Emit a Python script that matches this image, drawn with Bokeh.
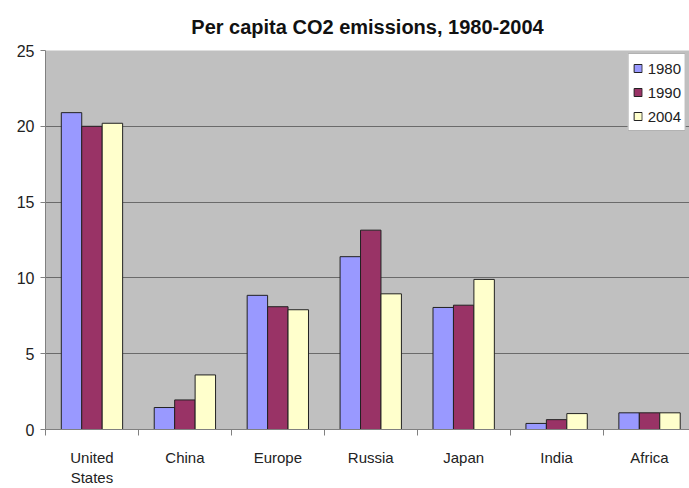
from bokeh.plotting import figure
from bokeh.models import FixedTicker, Legend, LegendItem, Range1d
from bokeh.embed import file_html
from bokeh.resources import INLINE

title_text = "Per capita CO2 emissions, 1980-2004"
regions = ["United\nStates", "China", "Europe", "Russia", "Japan", "India", "Africa"]
years = ["1980", "1990", "2004"]
co2_1980 = [20.9, 1.45, 8.85, 11.4, 8.05, 0.4, 1.1]
co2_1990 = [20.0, 1.95, 8.1, 13.15, 8.2, 0.65, 1.1]
co2_2004 = [20.2, 3.6, 7.9, 8.95, 9.9, 1.05, 1.1]
y_ticks = [0, 5, 10, 15, 20, 25]

colors = ["#9999FF", "#993366", "#FFFFCC"]
series = [co2_1980, co2_1990, co2_2004]

p = figure(width=689, height=488, output_backend="svg", toolbar_location=None,
           x_range=Range1d(0, 6.93), y_range=Range1d(0, 25),
           min_border_left=45, min_border_right=0, min_border_top=50,
           min_border_bottom=56)

p.title.text = title_text
p.title.align = "center"
p.title.text_font = "Liberation Sans"
p.title.text_font_size = "20px"
p.title.text_font_style = "bold"
p.title.text_color = "#111111"
p.title.offset = 10
p.title.standoff = 25

p.background_fill_color = "#C0C0C0"
p.border_fill_color = "white"
p.outline_line_color = None

centers = [i + 0.5 for i in range(len(regions))]
bar_w = 0.22
renderers = []
for k, (vals, col) in enumerate(zip(series, colors)):
    xs = [c + (k - 1) * bar_w for c in centers]
    r = p.vbar(x=xs, top=vals, width=bar_w, bottom=0, fill_color=col,
               line_color="#222222", line_width=1)
    renderers.append(r)

# y axis
p.yaxis.ticker = FixedTicker(ticks=y_ticks)
p.yaxis.major_label_text_font = "Liberation Sans"
p.yaxis.major_label_text_font_size = "16px"
p.yaxis.major_label_text_color = "#222222"
p.yaxis.axis_line_color = "#808080"
p.yaxis.major_tick_line_color = "#808080"
p.yaxis.major_tick_out = 5
p.yaxis.major_tick_in = 0
p.yaxis.minor_tick_line_color = None
p.yaxis.major_label_standoff = 6

# x axis: labels at category centres, tick marks between categories
p.xaxis.ticker = FixedTicker(ticks=centers, minor_ticks=list(range(len(regions) + 1)))
p.xaxis.major_label_overrides = {c: name for c, name in zip(centers, regions)}
p.xaxis.major_label_text_font = "Liberation Sans"
p.xaxis.major_label_text_font_size = "15px"
p.xaxis.major_label_text_color = "#222222"
p.xaxis.major_tick_line_color = None
p.xaxis.minor_tick_line_color = "#808080"
p.xaxis.minor_tick_out = 6
p.xaxis.minor_tick_in = 0
p.xaxis.axis_line_color = "#808080"
p.xaxis.major_label_standoff = 13

p.xgrid.grid_line_color = None
p.ygrid.grid_line_color = "#6a6a6a"
p.ygrid.grid_line_width = 1

legend = Legend(items=[LegendItem(label=y, renderers=[r]) for y, r in zip(years, renderers)],
                location="top_right")
legend.label_text_font = "Liberation Sans"
legend.label_text_font_size = "15px"
legend.label_text_color = "#222222"
legend.glyph_width = 10
legend.glyph_height = 10
legend.label_height = 20
legend.label_standoff = 5
legend.spacing = 4
legend.padding = 4
legend.margin = 3
legend.border_line_color = "#666666"
legend.background_fill_color = "white"
legend.background_fill_alpha = 1
p.add_layout(legend)

open("out.html", "w").write(file_html(p, INLINE))
